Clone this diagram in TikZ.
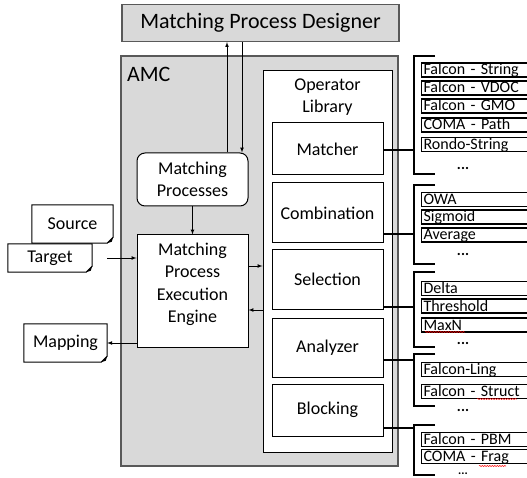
\documentclass[tikz,border=0pt]{standalone}
\usepackage{fontspec}
\setmainfont{Carlito}
\usetikzlibrary{arrows, decorations.pathmorphing}

% outline of a document with folded corner
\newcommand{\docoutline}[1]{%
  \draw[line width=1pt] (#1.north west) -- (#1.north east) -- ([yshift=6pt]#1.south east)
    -- ([xshift=-6pt]#1.south east) -- (#1.south west) -- cycle;
  \fill ([yshift=6pt]#1.south east) -- ([xshift=-6pt]#1.south east) -- ([xshift=-1.5pt,yshift=1.5pt]#1.south east) -- cycle;}

\begin{document}
\begin{tikzpicture}[x=1pt, y=-1pt,
		>=latex,   %arrow tips
		font=\fontsize{18}{22.5}\selectfont,
		graybox/.style={draw=black!65, fill=black!15, line width=1.2pt},
		opbox/.style={draw, fill=white, line width=1pt, minimum width=111pt, align=center},
		item/.style={draw, line width=1.1pt, anchor=west, text width=110pt, inner xsep=2pt, inner ysep=0.5pt,
			text height=11.5pt, text depth=1.5pt, font=\fontsize{16}{18}\selectfont},
		dots/.style={anchor=base, inner sep=0pt, text height=3pt, text depth=0pt, font=\fontsize{15}{18}\selectfont\bfseries},
		doc/.style={fill=white, inner sep=0pt},
		brace/.style={line width=2.2pt},
		link/.style={->, line width=0.7pt},
		typo/.style={red, line width=0.5pt, decorate, decoration={snake, amplitude=0.6pt, segment length=2.5pt}}]
		%Bildbereich
		\useasboundingbox (0,0) rectangle (527,478);
		\clip (0,0) rectangle (527,478);
		% Designer und AMC
		\node[graybox, minimum width=277pt, minimum height=37pt, font=\fontsize{22}{26}\selectfont] (designer) at (260.5,23) {Matching Process Designer};
		\node[graybox, minimum width=277pt, minimum height=410pt] (amc) at (259.5,261) {};
		\node[anchor=base west, inner sep=0pt, font=\fontsize{22}{26}\selectfont] (amclabel) at (127,82) {AMC};
		% Operator Library
		\node[draw, fill=white, line width=1pt, minimum width=129pt, minimum height=381pt] (oplib) at (327.5,261.5) {};
		\node[align=center] (oplibtitle) at (327.5,97) {Operator\\Library};
		\foreach \n/\t/\y/\h in {matcher/Matcher/149/52, combination/Combination/213/60, selection/Selection/279.5/59,
			analyzer/Analyzer/347.5/59, blocking/Blocking/410/52}
			\node[opbox, minimum height=\h pt] (\n) at (327.5,\y) {\t};
		% Prozesse
		\node[draw, fill=white, rounded corners=8pt, line width=1pt, minimum width=111pt, minimum height=53pt, align=center] (mp) at (192.5,179.5) {Matching\\Processes};
		\node[draw, fill=white, line width=1pt, minimum width=111pt, minimum height=112pt, align=center] (engine) at (192.5,291) {Matching\\Process\\Execution\\Engine\\[-6pt]};
		% Dokumente
		\node[doc, minimum width=81pt, minimum height=38pt] (source) at (72.5,224) {Source};
		\docoutline{source}
		\node[doc, minimum width=84pt, minimum height=28pt] (target) at (50,258) {Target};
		\docoutline{target}
		\node[doc, minimum width=83pt, minimum height=38pt] (mapping) at (65.5,343) {Mapping};
		\docoutline{mapping}
		% Pfeile
		\draw[link] (mp) -- (engine);
		\draw[link] ([xshift=34.5pt]mp.north) -- ([xshift=34.5pt]mp.north |- designer.south);
		\draw[link] ([xshift=49.5pt]mp.north |- designer.south) -- ([xshift=49.5pt]mp.north);
		\draw[link] ([xshift=15pt]target.east) -- (target.east -| engine.west);
		\draw[link] (engine.west |- mapping.east) -- (mapping.east);
		\draw[link] ([yshift=25pt]engine.east) -- ([yshift=25pt]engine.east -| oplib.west);
		\draw[link] ([yshift=-19pt]engine.east -| oplib.west) -- ([yshift=-19pt]engine.east);
		% Klammern
		\foreach \top/\bot in {56/174, 185/264, 272/347, 354/406, 425/475}
			\draw[brace] (435,\top) -- (414,\top) -- (414,\bot) -- (435,\bot);
		\coordinate (g1) at (414,150);
		\coordinate (g2) at (414,234);
		\coordinate (g3) at (414,307);
		\coordinate (g4) at (414,360);
		\coordinate (g5) at (414,428);
		\draw[brace] (matcher.east |- g1) -- (g1);
		\draw[brace] (combination.east |- g2) -- (g2);
		\draw[brace] (selection.east |- g3) -- (g3);
		\draw[brace] (analyzer.east |- g4) -- (g4);
		\draw[brace] (blocking.east |- g5) -- (g5);
		% Operatoren
		\foreach \y/\t [count=\i] in {70/Falcon - String, 88/Falcon - VDOC, 106/Falcon - GMO, 125/COMA - Path, 144.5/Rondo-String}
			\node[item] (ma\i) at (421,\y) {\t};
		\node[dots] (madots) at (463,170) {...};
		\foreach \y/\t [count=\i] in {199.5/OWA, 217/Sigmoid, 235/Average}
			\node[item] (co\i) at (421,\y) {\t};
		\node[dots] (codots) at (463,255) {...};
		\foreach \y/\t [count=\i] in {288.5/Delta, 306/Threshold, 325/MaxN}
			\node[item] (se\i) at (421,\y) {\t};
		\node[dots] (sedots) at (463,344) {...};
		\foreach \y/\t [count=\i] in {369.5/Falcon-Ling, 391.5/Falcon - Struct}
			\node[item] (an\i) at (421,\y) {\t};
		\node[dots] (andots) at (463,411) {...};
		\foreach \y/\t [count=\i] in {439.5/Falcon - PBM, 456.5/COMA - Frag}
			\node[item] (bl\i) at (421,\y) {\t};
		\node[dots, font=\fontsize{12}{14}\selectfont\bfseries] (bldots) at (463,474.5) {...};
		% Rechtschreibung
		\draw[typo] (425,332) -- (465,332);
		\draw[typo] (477,399) -- (517,399);
		\draw[typo] (479,466) -- (506,466);
	\end{tikzpicture}
\end{document}
